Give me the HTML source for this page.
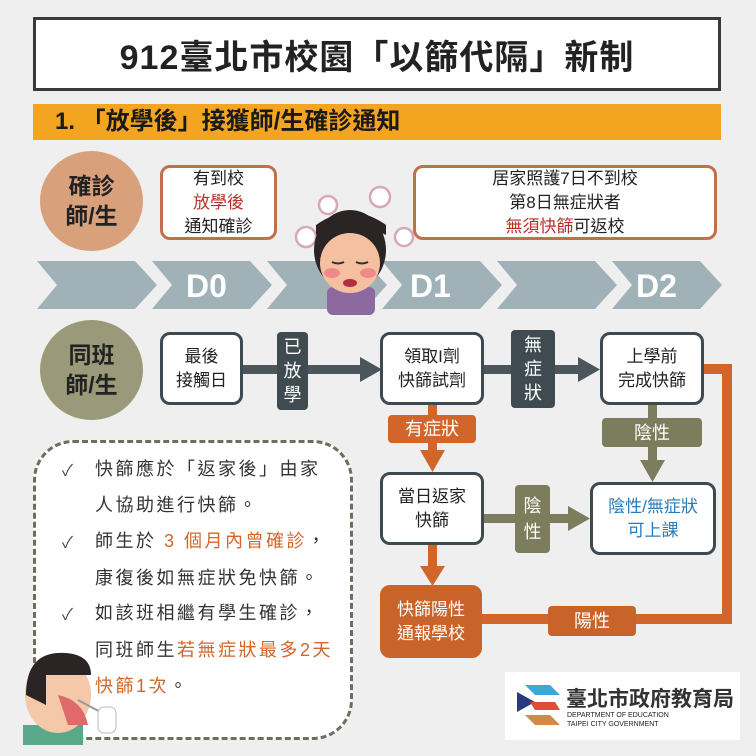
<!DOCTYPE html>
<html><head><meta charset="utf-8"><style>
*{margin:0;padding:0;box-sizing:border-box}
body{width:756px;height:756px;background:#efefef;position:relative;overflow:hidden;font-family:"Liberation Sans","Noto Sans CJK TC",sans-serif}
.a{position:absolute}
.box{position:absolute;background:#fff;border:3px solid #3e4a50;border-radius:10px;display:flex;align-items:center;justify-content:center;text-align:center;font-size:17px;line-height:24px;color:#222}
.lab{position:absolute;color:#fff;display:flex;align-items:center;justify-content:center;text-align:center;border-radius:4px;font-size:18px;line-height:22px}
.t{position:absolute;left:95px;font-size:18px;color:#333;letter-spacing:2.5px}
.ck{position:absolute;left:62px;font-size:16px;color:#444}
</style></head><body>
<div class="a" style="left:33px;top:17px;width:688px;height:74px;background:#fff;border:3px solid #3a3a3a;display:flex;align-items:center;justify-content:center;font-size:34px;font-weight:bold;color:#222;letter-spacing:1px">912臺北市校園「以篩代隔」新制</div>
<div class="a" style="left:33px;top:104px;width:688px;height:36px;background:#f3a420;font-size:24px;font-weight:bold;color:#1a1a1a;line-height:36px;padding-left:22px">1. 「放學後」接獲師/生確診通知</div>

<div class="a" style="left:40px;top:151px;width:103px;height:100px;border-radius:50%;background:#d9a07c;color:#222;font-size:23px;font-weight:bold;line-height:30px;display:flex;align-items:center;justify-content:center;text-align:center"><div>確診<br>師/生</div></div>
<div class="box" style="left:160px;top:165px;width:117px;height:75px;border-color:#c0704a"><div>有到校<br><span style="color:#b8302a">放學後</span><br>通知確診</div></div>
<div class="box" style="left:413px;top:165px;width:304px;height:75px;border-color:#c0704a"><div>居家照護7日不到校<br>第8日無症狀者<br><span style="color:#b8302a">無須快篩</span>可返校</div></div>

<svg class="a" style="left:0;top:255px" width="756" height="60">
<g fill="#a0b1b7">
<polygon points="37,6 135,6 157,30 135,54 37,54 57,30"/>
<polygon points="152,6 250,6 272,30 250,54 152,54 172,30"/>
<polygon points="267,6 365,6 387,30 365,54 267,54 287,30"/>
<polygon points="382,6 480,6 502,30 480,54 382,54 402,30"/>
<polygon points="497,6 595,6 617,30 595,54 497,54 517,30"/>
<polygon points="612,6 700,6 722,30 700,54 612,54 632,30"/>
</g>
<g fill="#fff" font-family="Liberation Sans" font-weight="bold" font-size="32"><text x="186" y="42">D0</text><text x="410" y="42">D1</text><text x="636" y="42">D2</text></g>
</svg>

<svg class="a" style="left:280px;top:175px" width="135" height="140">
<g fill="#fff" stroke="#d8a8b8" stroke-width="2.5">
<circle cx="48" cy="30" r="9"/><circle cx="100" cy="22" r="10"/><circle cx="26" cy="62" r="10"/><circle cx="124" cy="62" r="9"/></g>
<rect x="47" y="112" width="48" height="28" rx="6" fill="#8c6aa0"/>
<ellipse cx="70" cy="75" rx="36" ry="40" fill="#2a2424"/>
<ellipse cx="70" cy="88" rx="30" ry="30" fill="#f4c0a0"/>
<ellipse cx="52" cy="98" rx="8" ry="5" fill="#f08a8a"/><ellipse cx="88" cy="98" rx="8" ry="5" fill="#f08a8a"/>
<path d="M52 87 q6 3 12 0 M76 87 q6 3 12 0" stroke="#333" stroke-width="2" fill="none"/>
<ellipse cx="70" cy="108" rx="7" ry="4" fill="#b03040"/>
<path d="M36 60 q30 -20 70 0 v-10 q-35 -25 -70 0z" fill="#2a2424"/>
</svg>

<div class="a" style="left:40px;top:320px;width:103px;height:100px;border-radius:50%;background:#9a9a7a;color:#222;font-size:23px;font-weight:bold;line-height:30px;display:flex;align-items:center;justify-content:center;text-align:center"><div>同班<br>師/生</div></div>

<svg class="a" style="left:0;top:0" width="756" height="756">
<g fill="#4a565c"><rect x="243" y="365" width="120" height="9"/><polygon points="360,357 382,369.5 360,382"/>
<rect x="484" y="365" width="96" height="9"/><polygon points="578,357 600,369.5 578,382"/></g>
<g fill="#d2662a"><rect x="428" y="405" width="9" height="50"/><polygon points="420,450 445,450 432.5,472"/>
<rect x="428" y="545" width="9" height="25"/><polygon points="420,566 445,566 432.5,586"/>
<path d="M704 364 H732 V624 H460 V614 H722 V374 H704z"/><polygon points="462,606 440,619 462,632"/></g>
<g fill="#7b7d5c"><rect x="648" y="405" width="9" height="60"/><polygon points="640,460 665,460 652.5,482"/>
<rect x="484" y="514" width="86" height="9"/><polygon points="568,506 590,518.5 568,531"/></g>
</svg>

<div class="box" style="left:160px;top:332px;width:83px;height:73px"><div>最後<br>接觸日</div></div>
<div class="lab" style="left:277px;top:332px;width:31px;height:78px;background:#3f4b51;line-height:24px"><div>已<br>放<br>學</div></div>
<div class="box" style="left:380px;top:332px;width:104px;height:73px"><div>領取I劑<br>快篩試劑</div></div>
<div class="lab" style="left:511px;top:330px;width:44px;height:78px;background:#3f4b51;line-height:24px"><div>無<br>症<br>狀</div></div>
<div class="box" style="left:600px;top:332px;width:104px;height:73px"><div>上學前<br>完成快篩</div></div>
<div class="lab" style="left:388px;top:415px;width:88px;height:28px;background:#d2662a">有症狀</div>
<div class="lab" style="left:602px;top:418px;width:100px;height:29px;background:#7b7d5c">陰性</div>
<div class="box" style="left:380px;top:472px;width:104px;height:73px"><div>當日返家<br>快篩</div></div>
<div class="lab" style="left:515px;top:485px;width:35px;height:68px;background:#7b7d5c;line-height:26px"><div>陰<br>性</div></div>
<div class="box" style="left:590px;top:482px;width:126px;height:73px;color:#2a7ab8"><div>陰性/無症狀<br>可上課</div></div>
<div class="box" style="left:380px;top:585px;width:102px;height:73px;background:#c8642a;border-color:#c8642a;color:#fff"><div>快篩陽性<br>通報學校</div></div>
<div class="lab" style="left:548px;top:606px;width:88px;height:30px;background:#c8642a">陽性</div>

<div class="a" style="left:33px;top:440px;width:320px;height:300px;background:#fff;border:3px dashed #6e6e5e;border-radius:40px"></div>
<div class="ck" style="top:457px">✓</div><div class="t" style="top:455px">快篩應於「返家後」由家</div>
<div class="t" style="top:491px">人協助進行快篩。</div>
<div class="ck" style="top:529px">✓</div><div class="t" style="top:527px">師生於 <span style="color:#d2662a">3 個月內曾確診</span>，</div>
<div class="t" style="top:564px">康復後如無症狀免快篩。</div>
<div class="ck" style="top:601px">✓</div><div class="t" style="top:599px">如該班相繼有學生確診，</div>
<div class="t" style="top:636px">同班師生<span style="color:#d2662a">若無症狀最多2天</span></div>
<div class="t" style="top:672px;color:#d2662a">快篩1次<span style="color:#333">。</span></div>

<svg class="a" style="left:18px;top:645px" width="105" height="100">
<rect x="5" y="80" width="60" height="20" fill="#5aa88a"/>
<ellipse cx="40" cy="50" rx="33" ry="38" fill="#f4c8a8"/>
<path d="M8 50 q0 -45 40 -42 q25 2 25 22 h-45 v30z" fill="#2a2424"/>
<path d="M40 50 q25 5 30 30 h-20z" fill="#e06a6a"/>
<line x1="60" y1="55" x2="88" y2="70" stroke="#999" stroke-width="2"/>
<rect x="80" y="62" width="18" height="26" rx="6" fill="#fff" stroke="#bbb"/>
</svg>

<div class="a" style="left:505px;top:672px;width:235px;height:68px;background:#fff"></div>
<svg class="a" style="left:515px;top:680px" width="50" height="55">
<polygon points="10,5 35,5 45,15 20,15" fill="#3aa8d8"/>
<polygon points="2,12 20,22 2,32" fill="#283a80"/>
<polygon points="15,22 40,22 45,30 20,30" fill="#e04a3a"/>
<polygon points="10,35 35,35 45,45 20,45" fill="#d08a4a"/>
</svg>
<div class="a" style="left:566px;top:683px;font-size:21px;color:#333;font-weight:bold">臺北市政府教育局</div>
<div class="a" style="left:567px;top:711px;font-size:7px;color:#222;line-height:9px">DEPARTMENT OF EDUCATION<br>TAIPEI CITY GOVERNMENT</div>
</body></html>
